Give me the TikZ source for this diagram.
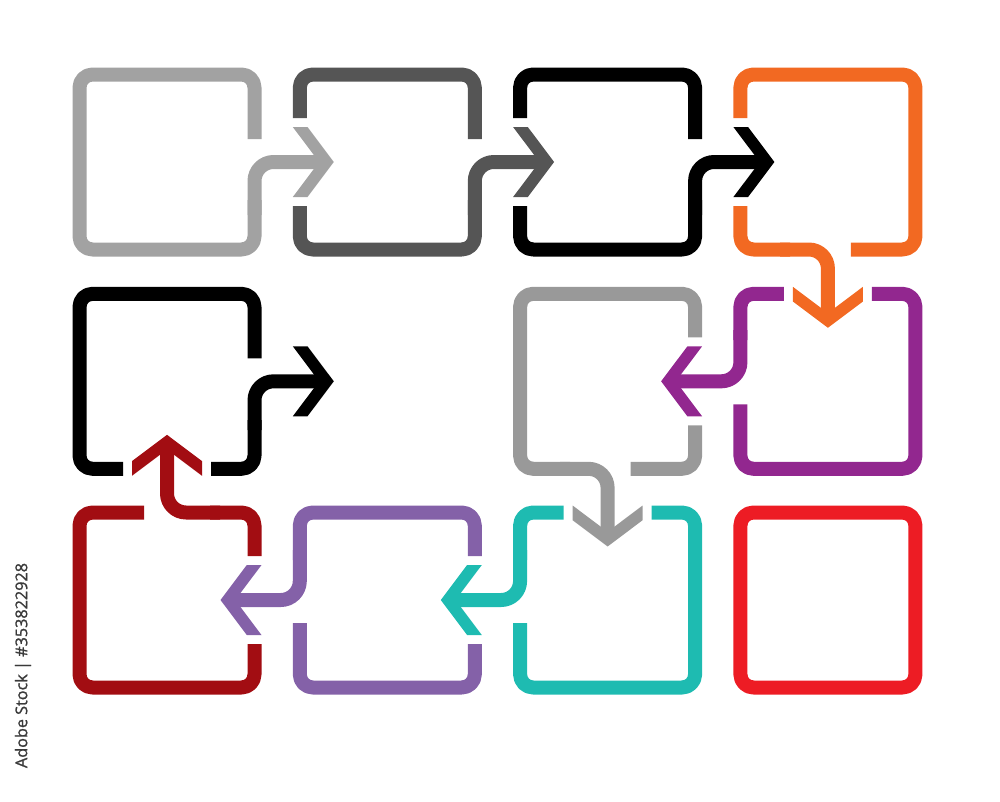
\documentclass[tikz,border=0pt]{standalone}
\usepackage{fontspec}
\newfontfamily\wmfont[FakeBold=1.2]{Open Sans}
\definecolor{lg}{HTML}{A2A2A2}
\definecolor{dg}{HTML}{555555}
\definecolor{bk}{HTML}{000000}
\definecolor{orng}{HTML}{F26922}
\definecolor{purp}{HTML}{92278F}
\definecolor{gry}{HTML}{999999}
\definecolor{teal2}{HTML}{1EBBB1}
\definecolor{viol}{HTML}{8461A8}
\definecolor{dred}{HTML}{A20D12}
\definecolor{rd}{HTML}{ED1C24}
\definecolor{wm}{HTML}{3A3A3A}
\tikzset{
  box/.style={draw=#1, line width=14pt, line cap=butt, line join=round, rounded corners=13pt},
  shaft/.style={draw=#1, line width=14pt, line cap=butt, line join=round, rounded corners=19pt},
  chev/.style={fill=#1, draw=none, sharp corners}
}
\begin{document}
\begin{tikzpicture}[x=1pt,y=-1pt]
\useasboundingbox (0,0) rectangle (1000,801);
% Box 1 (light grey)
\draw[box=lg] (254.5,139) -- (254.5,74.5) -- (79.5,74.5) -- (79.5,249.5) -- (254.5,249.5) -- (254.5,200);
\draw[shaft=lg] (254.5,215) -- (254.5,162) -- (320.8,162);
\fill[chev=lg] (292.8,127) -- (307.5,127) -- (333.8,162) -- (307.5,197) -- (292.8,197) -- (319.1,162) -- cycle;
% Box 2 (dark grey)
\draw[box=dg] (299.8,118) -- (299.8,74.5) -- (474.8,74.5) -- (474.8,139);
\draw[box=dg] (299.8,206) -- (299.8,249.5) -- (474.8,249.5) -- (474.8,200);
\draw[shaft=dg] (474.8,215) -- (474.8,162) -- (541.1,162);
\fill[chev=dg] (513.1,127) -- (527.8,127) -- (554.1,162) -- (527.8,197) -- (513.1,197) -- (539.4,162) -- cycle;
% Box 3 (black)
\draw[box=bk] (520.1,118) -- (520.1,74.5) -- (695.1,74.5) -- (695.1,139);
\draw[box=bk] (520.1,206) -- (520.1,249.5) -- (695.1,249.5) -- (695.1,200);
\draw[shaft=bk] (695.1,215) -- (695.1,162) -- (761.4,162);
\fill[chev=bk] (733.4,127) -- (748.1,127) -- (774.4,162) -- (748.1,197) -- (733.4,197) -- (759.7,162) -- cycle;
% Box 4 (orange)
\draw[box=orng] (740.4,118) -- (740.4,74.5) -- (915.4,74.5) -- (915.4,249.5) -- (850.9,249.5);
\draw[box=orng] (740.4,206) -- (740.4,249.5) -- (790,249.5);
\draw[shaft=orng] (780,249.5) -- (827.9,249.5) -- (827.9,314.8);
\fill[chev=orng] (792.9,286.8) -- (792.9,301.5) -- (827.9,327.8) -- (862.9,301.5) -- (862.9,286.8) -- (827.9,313.1) -- cycle;
% Purple (row 2, col 4)
\draw[box=purp] (783.9,293.8) -- (740.4,293.8) -- (740.4,340);
\draw[shaft=purp] (740.4,330) -- (740.4,381.3) -- (674.1,381.3);
\draw[box=purp] (871.9,293.8) -- (915.4,293.8) -- (915.4,468.8) -- (740.4,468.8) -- (740.4,404.3);
\fill[chev=purp] (702.1,346.3) -- (687.4,346.3) -- (661.1,381.3) -- (687.4,416.3) -- (702.1,416.3) -- (675.8,381.3) -- cycle;
% Grey (row 2, col 3)
\draw[box=gry] (695.1,337.3) -- (695.1,293.8) -- (520.1,293.8) -- (520.1,468.8) -- (570,468.8);
\draw[shaft=gry] (560,468.8) -- (607.6,468.8) -- (607.6,533.5);
\draw[box=gry] (695.1,425.3) -- (695.1,468.8) -- (630.6,468.8);
\fill[chev=gry] (572.6,505.5) -- (572.6,520.2) -- (607.6,546.5) -- (642.6,520.2) -- (642.6,505.5) -- (607.6,531.8) -- cycle;
% Teal (row 3, col 3)
\draw[box=teal2] (563.6,512.5) -- (520.1,512.5) -- (520.1,560);
\draw[shaft=teal2] (520.1,550) -- (520.1,600) -- (453.8,600);
\draw[box=teal2] (651.6,512.5) -- (695.1,512.5) -- (695.1,687.5) -- (520.1,687.5) -- (520.1,623);
\fill[chev=teal2] (481.8,565) -- (467.1,565) -- (440.8,600) -- (467.1,635) -- (481.8,635) -- (455.5,600) -- cycle;
% Violet (row 3, col 2)
\draw[box=viol] (474.8,556) -- (474.8,512.5) -- (299.8,512.5) -- (299.8,560);
\draw[shaft=viol] (299.8,550) -- (299.8,600) -- (233.5,600);
\draw[box=viol] (474.8,644) -- (474.8,687.5) -- (299.8,687.5) -- (299.8,623);
\fill[chev=viol] (261.5,565) -- (246.8,565) -- (220.5,600) -- (246.8,635) -- (261.5,635) -- (235.2,600) -- cycle;
% Dark red (row 3, col 1)
\draw[box=dred] (254.5,556) -- (254.5,512.5) -- (210,512.5);
\draw[shaft=dred] (220,512.5) -- (167,512.5) -- (167,447.8);
\draw[box=dred] (254.5,644) -- (254.5,687.5) -- (79.5,687.5) -- (79.5,512.5) -- (144,512.5);
\fill[chev=dred] (132,475.8) -- (132,461.1) -- (167,434.8) -- (202,461.1) -- (202,475.8) -- (167,449.5) -- cycle;
% Black (row 2, col 1)
\draw[box=bk] (123,468.8) -- (79.5,468.8) -- (79.5,293.8) -- (254.5,293.8) -- (254.5,358.3);
\draw[box=bk] (211,468.8) -- (254.5,468.8) -- (254.5,420);
\draw[shaft=bk] (254.5,430) -- (254.5,381.3) -- (320.8,381.3);
\fill[chev=bk] (292.8,346.3) -- (307.5,346.3) -- (333.8,381.3) -- (307.5,416.3) -- (292.8,416.3) -- (319.1,381.3) -- cycle;
% Red (row 3, col 4)
\draw[box=rd] (740.4,512.5) rectangle (915.4,687.5);
% stock id text
\node[rotate=90, inner sep=0pt, text=wm, font=\wmfont\fontsize{16.2}{16.2}\selectfont] (wmtext) at (23,665.5) {Adobe Stock | \#353822928};
\end{tikzpicture}
\end{document}
